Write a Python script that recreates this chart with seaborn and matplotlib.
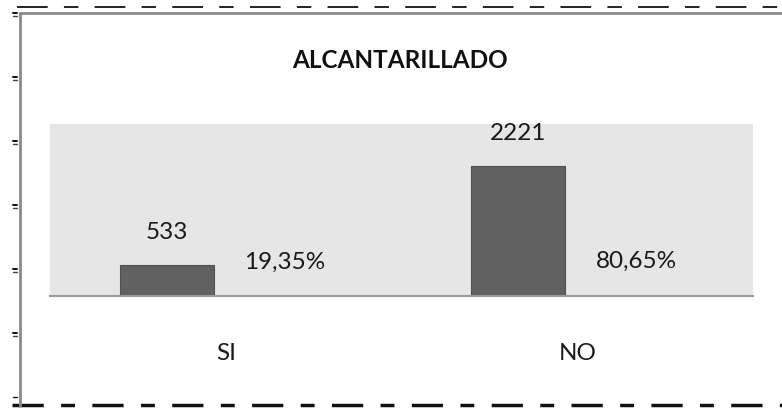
import matplotlib
matplotlib.use("Agg")
import matplotlib.pyplot as plt
from matplotlib.lines import Line2D
import pandas as pd
import seaborn as sns

categorias = ["SI", "NO"]
cantidad = [533, 2221]
porcentaje = [19.35, 80.65]
titulo = "ALCANTARILLADO"

sns.set_theme(style="white")
plt.rcParams["font.family"] = ["Lato", "DejaVu Sans"]

# tabla larga: la serie de porcentajes queda casi a cero en la escala de cantidades
df = pd.DataFrame({
    "categoria": categorias * 2,
    "serie": ["cantidad"] * 2 + ["porcentaje"] * 2,
    "valor": cantidad + [p / 100 for p in porcentaje],
})

fig = plt.figure(figsize=(7.82, 4.08), dpi=100)
ax = fig.add_axes([50 / 782, 112 / 408, 703 / 782, 172 / 408])
ax.set_facecolor("#e6e6e6")

sns.barplot(data=df, x="categoria", y="valor", hue="serie", order=categorias,
            palette=["#616161", "#616161"], width=0.67, gap=0.2,
            edgecolor="#505050", linewidth=0.8, legend=False, ax=ax)

ax.set_ylim(0, 2940)
ax.set_xlim(-0.5, 1.5)
for s in ["top", "left", "right"]:
    ax.spines[s].set_visible(False)
ax.spines["bottom"].set_color("#9a9a9a")
ax.spines["bottom"].set_linewidth(1.5)
ax.set_yticks([])
ax.set_xlabel("")
ax.set_ylabel("")
ax.tick_params(axis="x", length=0, pad=34, labelsize=17.5, labelcolor="#1a1a1a")

ax.bar_label(ax.containers[0], labels=[str(v) for v in cantidad],
             padding=16, fontsize=17.5, color="#1a1a1a")
ax.bar_label(ax.containers[1], labels=[f"{p:.2f}%".replace(".", ",") for p in porcentaje],
             padding=17, fontsize=17.5, color="#1a1a1a")

fig.text(400 / 782, 1 - 60 / 408, titulo, ha="center", va="center",
         fontsize=17.5, fontweight="bold", color="#111111")

# marco de la hoja
W, H = 782, 408
def fx(x):
    return x / W
def fy(y):
    return 1 - y / H

fig.add_artist(Line2D([fx(17), fx(782)], [fy(6.5), fy(6.5)], color="#111111",
                      lw=1.3, dashes=(17, 9, 8, 9)))
fig.add_artist(Line2D([fx(12), fx(782)], [fy(405), fy(405)], color="#111111",
                      lw=2.5, dashes=(9, 5, 4, 5)))
fig.add_artist(Line2D([fx(20), fx(782)], [fy(13), fy(13)], color="#8a8a8a", lw=2))
fig.add_artist(Line2D([fx(20), fx(20)], [fy(13), fy(406)], color="#8a8a8a", lw=2))
for ty in [14, 78, 142, 206, 270, 334]:
    fig.add_artist(Line2D([fx(12.5), fx(17)], [fy(ty - 1), fy(ty - 1)], color="#111111", lw=1.4))
    fig.add_artist(Line2D([fx(12.5), fx(17)], [fy(ty + 1.5), fy(ty + 1.5)], color="#444444", lw=1))
fig.add_artist(Line2D([fx(12.5), fx(17)], [fy(397), fy(397)], color="#111111", lw=1))

fig.savefig("out.png", dpi=100)
